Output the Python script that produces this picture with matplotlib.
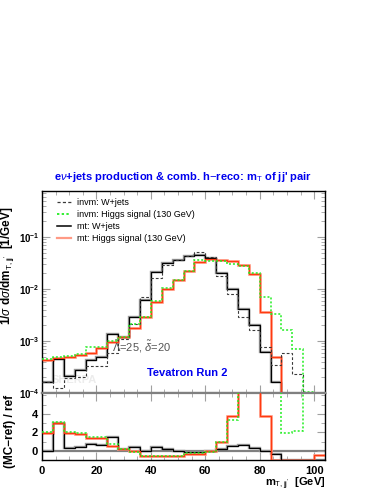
import numpy as np
import matplotlib
matplotlib.use("Agg")
import matplotlib.pyplot as plt
from matplotlib.lines import Line2D
from matplotlib.ticker import MultipleLocator, LogLocator, NullFormatter, FixedLocator

plt.rcParams['font.family'] = ['Liberation Sans', 'DejaVu Sans']
plt.rcParams['mathtext.fontset'] = 'custom'
plt.rcParams['mathtext.rm'] = 'Liberation Sans'
plt.rcParams['mathtext.it'] = 'Liberation Sans:italic'
plt.rcParams['mathtext.bf'] = 'Liberation Sans:bold'

# ---------------- data ----------------
bin_edges = np.arange(0, 108, 4)  # 0..104 GeV, 26 bins

invm_wjets = [1.6e-4, 1.24e-4, 1.96e-4, 2.01e-4, 3.24e-4, 3.38e-4, 5.82e-4, 1.10e-3,
              2.14e-3, 6.95e-3, 0.0161, 0.0296, 0.0369, 0.0441, 0.0511, 0.0409,
              0.0182, 8.09e-3, 2.96e-3, 1.64e-3, 7.83e-4, 3.53e-4, 5.82e-4, 2.34e-4,
              0.0, 0.0]
invm_higgs = [4.55e-4, 4.88e-4, 5.26e-4, 5.68e-4, 7.60e-4, 7.83e-4, 1.02e-3, 1.22e-3,
              2.14e-3, 2.96e-3, 6.01e-3, 0.0104, 0.0152, 0.0227, 0.0365, 0.0353,
              0.0343, 0.0305, 0.0283, 0.0205, 6.95e-3, 3.24e-3, 1.64e-3, 7.08e-4,
              1.04e-4, 1.01e-4]
mt_wjets = [1.61e-4, 4.55e-4, 2.17e-4, 2.79e-4, 4.22e-4, 4.88e-4, 1.37e-3, 1.18e-3,
            2.87e-3, 6.19e-3, 0.0217, 0.0313, 0.0369, 0.0428, 0.0460, 0.0398,
            0.0201, 0.0101, 4.16e-3, 2.07e-3, 6.1e-4, 1.61e-4, 0.0, 0.0, 0.0, 0.0]
mt_higgs = [4.35e-4, 4.67e-4, 4.88e-4, 5.43e-4, 5.93e-4, 7.40e-4, 9.48e-4, 1.18e-3,
            1.79e-3, 2.87e-3, 5.75e-3, 0.0101, 0.0152, 0.0227, 0.0327, 0.0381,
            0.0369, 0.0343, 0.0296, 0.0196, 3.58e-3, 4.88e-4, 0.0, 0.0, 0.0, 0.0]

# ratio panel (MC-ref)/ref, ref = invm W+jets ; 10 = beyond the top of the panel
ratio_mt_wjets = [0.0, 3.05, 0.3, 0.45, 0.7, 0.6, 1.45, 0.2, 0.45, -0.07, 0.4, 0.18,
                  0.0, -0.1, -0.1, 0.0, 0.18, 0.5, 0.65, 0.35, -0.07, -0.36,
                  -1.0, -1.0, -1.0, -1.0]
ratio_mt_higgs = [1.9, 3.0, 1.9, 1.85, 1.35, 1.35, 0.55, 0.15, -0.07, -0.6, -0.6, -0.6,
                  -0.6, -0.3, -0.3, -0.07, 1.0, 3.75, 10.0, 10.0, 3.75, -0.95,
                  -1.0, -1.0, -1.0, -0.45]
ratio_invm_higgs = [2.0, 3.15, 2.0, 1.9, 1.45, 1.45, 0.75, 0.15, -0.1, -0.6, -0.6, -0.6,
                    -0.6, -0.25, -0.25, -0.1, 0.9, 3.3, 10.0, 10.0, 10.0, 10.0,
                    1.9, 2.2, 10.0, 10.0]

labels = ["invm: W+jets", "invm: Higgs signal (130 GeV)",
          "mt: W+jets", "mt: Higgs signal (130 GeV)"]
ratio_ticks = [0, 2, 4]

# ---------------- styles ----------------
c_dash = '#3a3a3a'
c_green = '#22ee22'
c_black = '#000000'
c_black_halo = '#9a9a9a'
c_red = '#ff3a10'
c_red_halo = '#ff9a85'
tick_col = '#a0a0a0'

W, H = 382, 494
fig = plt.figure(figsize=(W / 100, H / 100), dpi=100)
L, R = 42, 325
ax = fig.add_axes([L / W, (H - 393) / H, (R - L) / W, (393 - 191) / H])
axr = fig.add_axes([L / W, (H - 460) / H, (R - L) / W, (460 - 393) / H])

edges = np.asarray(bin_edges, dtype=float)

def pos(v):
    v = np.asarray(v, dtype=float)
    return np.where(v > 0, v, 1e-9)

# main panel
ax.set_yscale('log')
ax.stairs(pos(mt_wjets), edges, baseline=None, color=c_black_halo, lw=1.7, zorder=2)
ax.stairs(pos(mt_wjets), edges, baseline=None, color=c_black, lw=0.9, zorder=3)
ax.stairs(pos(invm_wjets), edges, baseline=None, color=c_dash, lw=0.8,
          linestyle=(0, (2.5, 1.8)), zorder=4)
ax.stairs(pos(mt_higgs), edges, baseline=None, color=c_red_halo, lw=1.9, zorder=2)
ax.stairs(pos(mt_higgs), edges, baseline=None, color=c_red, lw=0.9, zorder=3)
ax.stairs(pos(invm_higgs), edges, baseline=None, color=c_green, lw=1.1,
          linestyle=(0, (1.3, 1.3)), zorder=4)

ax.set_xlim(0, 104)
ax.set_ylim(1e-4, 0.77)

# ratio panel
axr.axhline(0, color='#808080', lw=1.6, zorder=1)
axr.stairs(ratio_mt_wjets, edges, baseline=None, color=c_black_halo, lw=1.7, zorder=2)
axr.stairs(ratio_mt_wjets, edges, baseline=None, color=c_black, lw=0.9, zorder=3)
axr.stairs(ratio_mt_higgs, edges, baseline=None, color=c_red_halo, lw=1.9, zorder=2)
axr.stairs(ratio_mt_higgs, edges, baseline=None, color=c_red, lw=0.9, zorder=3)
axr.stairs(ratio_invm_higgs, edges, baseline=None, color=c_green, lw=1.1,
           linestyle=(0, (1.3, 1.3)), zorder=4)
axr.set_xlim(0, 104)
axr.set_ylim(-1.0, 6.27)

# spines / ticks
for a in (ax, axr):
    for s in a.spines.values():
        s.set_color('black')
        s.set_linewidth(1.0)
    a.tick_params(which='both', direction='in', top=True, right=True,
                  color=tick_col, labelsize=8)
    a.tick_params(which='major', length=6, width=0.8)
    a.tick_params(which='minor', length=3, width=0.6)
    a.xaxis.set_major_locator(MultipleLocator(20))
    a.xaxis.set_minor_locator(MultipleLocator(5))
ax.spines['bottom'].set_color('#808080')
ax.spines['bottom'].set_linewidth(1.6)
axr.spines['top'].set_color('#808080')
axr.spines['top'].set_linewidth(1.6)
ax.tick_params(labelbottom=False)
ax.tick_params(axis='y', pad=1.5, labelsize=7)
axr.tick_params(axis='y', pad=3)
ax.yaxis.set_major_locator(LogLocator(base=10, numticks=10))
ax.yaxis.set_minor_locator(LogLocator(base=10, subs=np.arange(2, 10), numticks=20))
ax.yaxis.set_minor_formatter(NullFormatter())
axr.yaxis.set_major_locator(FixedLocator(ratio_ticks))
axr.yaxis.set_minor_locator(MultipleLocator(1))
axr.tick_params(axis='x', pad=4)
for lab in ax.get_yticklabels() + axr.get_yticklabels() + axr.get_xticklabels():
    lab.set_fontweight('bold')

# labels
ax.set_ylabel(r"1/$\sigma$ d$\sigma$/dm$_{\rm T,jj'}$  [1/GeV]", fontsize=8.5,
              fontweight='bold')
ax.yaxis.set_label_coords(-0.092, 0.63)
axr.set_ylabel("(MC\u2212ref) / ref", fontsize=8.5, fontweight='bold')
axr.yaxis.set_label_coords(-0.092, 0.43)
fig.text(R / W, 1 - 484 / H, r"m$_{\rm T,jj'}$  [GeV]", ha='right', va='center',
         fontsize=8, fontweight='bold')

fig.text(183 / W, 1 - 177 / H,
         r"e$\nu$+jets production & comb. h$-$reco: m$_{\rm T}$ of jj' pair",
         ha='center', va='center', fontsize=8, fontweight='bold', color='#0000ee')

# legend
handles = [Line2D([], [], color=c_dash, lw=0.9, linestyle=(0, (2.5, 1.8))),
           Line2D([], [], color=c_green, lw=1.3, linestyle=(0, (1.3, 1.3))),
           Line2D([], [], color=c_black, lw=1.1),
           Line2D([], [], color=c_red_halo, lw=1.6)]
leg = ax.legend(handles, labels, loc='upper left', bbox_to_anchor=(0.052, 0.965),
                frameon=False, fontsize=6.5, handlelength=1.55, handletextpad=0.75,
                labelspacing=0.32, borderpad=0, borderaxespad=0)

# annotations
ax.text((112 - L) / (R - L), (393 - 347) / (393 - 191),
        r"$\tilde{\Lambda}$=25, $\tilde{\delta}$=20", transform=ax.transAxes,
        fontsize=8, color='#555555', va='center', ha='left')
ax.text((147 - L) / (R - L), (393 - 373) / (393 - 191), "Tevatron Run 2",
        transform=ax.transAxes, fontsize=8, color='#0000ee', fontweight='bold',
        va='center', ha='left')
ax.text((52 - L) / (R - L), (393 - 380) / (393 - 191), "SHERPA",
        transform=ax.transAxes, fontsize=8, color='#ececec', fontweight='bold',
        va='center', ha='left', zorder=1)

fig.savefig("out.png", dpi=100)
